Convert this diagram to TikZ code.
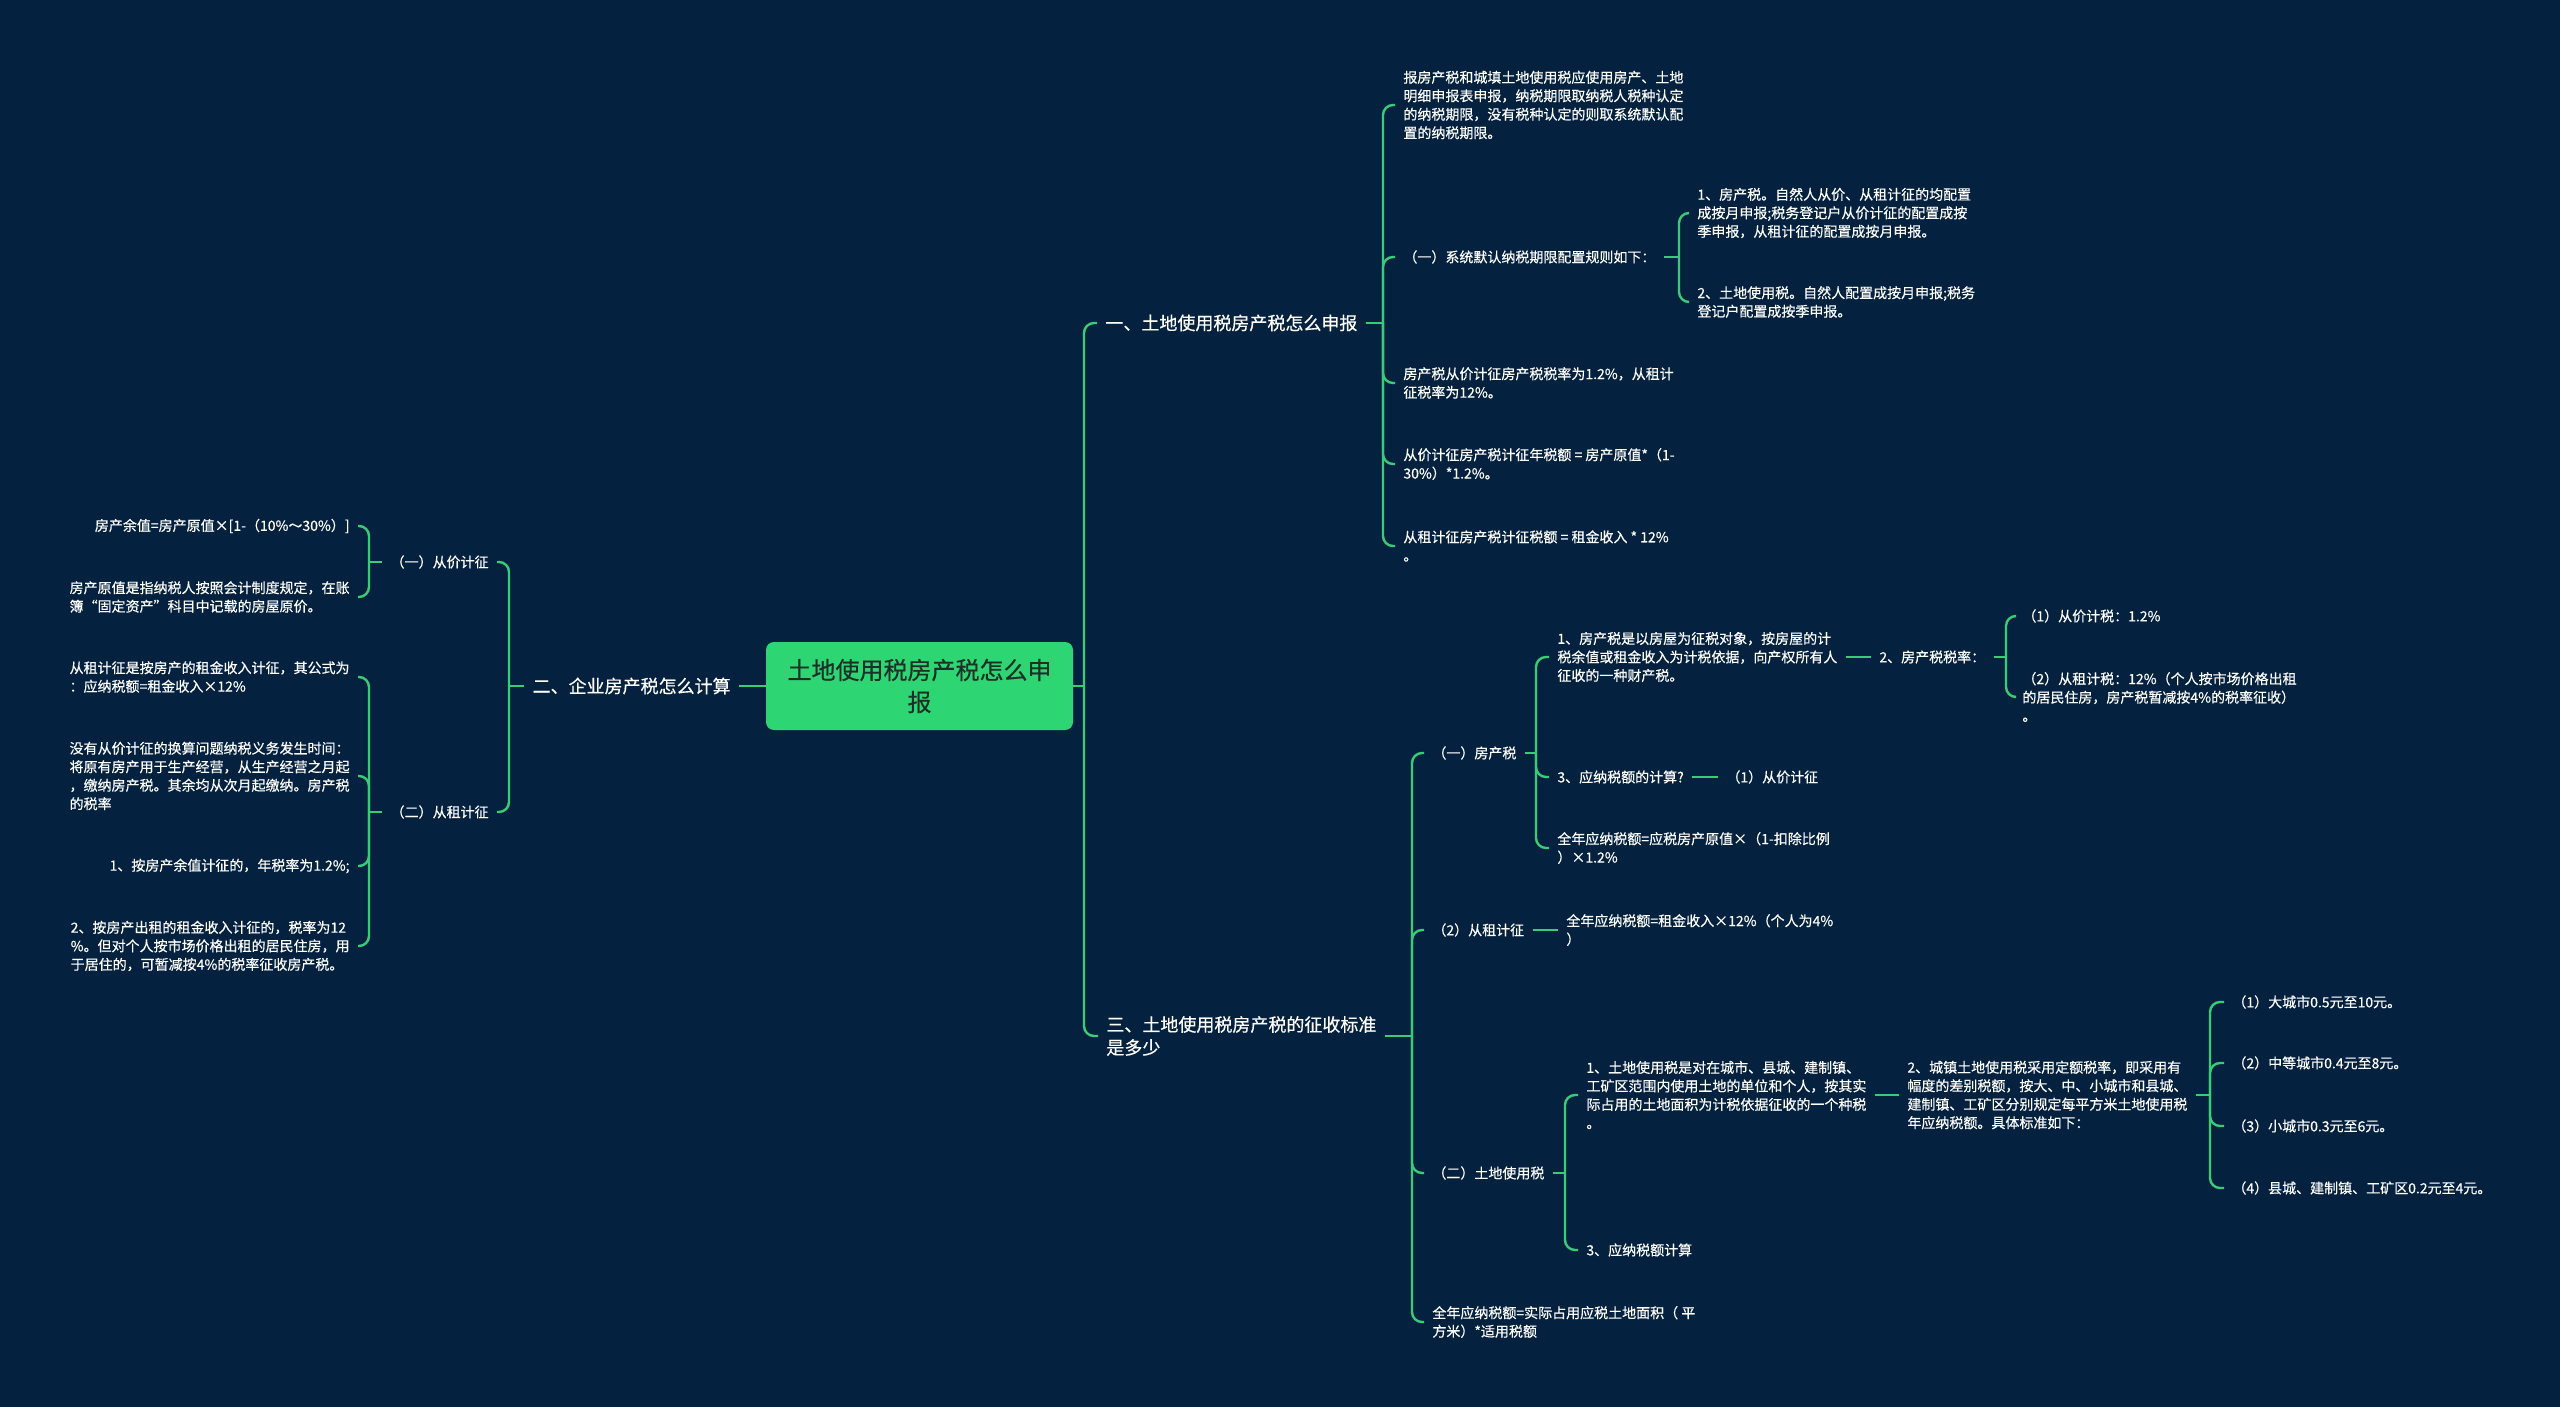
\documentclass[tikz,border=0pt]{standalone}
\usepackage{fontspec}
\setmainfont{Noto Sans CJK SC}[FakeBold=0.4]
\definecolor{bgc}{RGB}{4,34,64}
\definecolor{lineg}{RGB}{56,204,118}
\definecolor{rootg}{RGB}{46,213,115}
\definecolor{roottxt}{RGB}{28,48,40}
\tikzset{
  conn/.style={draw=lineg, line width=1.2pt, rounded corners=5pt},
  leaf/.style={text=white, font=\fontsize{7}{9.25}\selectfont, align=left, inner xsep=4pt, inner ysep=1pt},
  ttl/.style={text=white, font=\fontsize{9}{11.5}\selectfont, align=left, inner xsep=4pt, inner ysep=1pt},
  rootbox/.style={fill=rootg, rounded corners=4pt, text=roottxt, font=\fontsize{12}{16}\selectfont, align=center, minimum width=153.5pt, minimum height=44pt, inner sep=0pt},
}
\begin{document}
\begin{tikzpicture}[x=0.5pt,y=-0.5pt]
\useasboundingbox (0,0) rectangle (2560,1407);
\fill[bgc] (0,0) rectangle (2560,1407);

% bracket x positions
\coordinate (bxR) at (1084,0);
\coordinate (bx1) at (1383,0);
\coordinate (bxa2) at (1679,0);
\coordinate (bx3) at (1412,0);
\coordinate (bxb1) at (1536,0);
\coordinate (bxb111) at (2006,0);
\coordinate (bxb3) at (1565,0);
\coordinate (bxb311) at (2210,0);
\coordinate (bxL) at (509,0);
\coordinate (bxL1) at (369,0);

% root
\node[rootbox] (root) at (919.5,686) {土地使用税房产税怎么申\\报};

% right: section one
\node[ttl,anchor=west] (t1) at (1097,323) {一、土地使用税房产税怎么申报};
\node[leaf,anchor=west] (a1) at (1395,105) {报房产税和城填土地使用税应使用房产、土地\\明细申报表申报，纳税期限取纳税人税种认定\\的纳税期限，没有税种认定的则取系统默认配\\置的纳税期限。};
\node[leaf,anchor=west] (a2) at (1395,257) {（一）系统默认纳税期限配置规则如下：};
\node[leaf,anchor=west] (a21) at (1689,213) {1、房产税。自然人从价、从租计征的均配置\\成按月申报;税务登记户从价计征的配置成按\\季申报，从租计征的配置成按月申报。};
\node[leaf,anchor=west] (a22) at (1689,302) {2、土地使用税。自然人配置成按月申报;税务\\登记户配置成按季申报。};
\node[leaf,anchor=west] (a3) at (1395,383) {房产税从价计征房产税税率为1.2\%，从租计\\征税率为12\%。};
\node[leaf,anchor=west] (a4) at (1395,464) {从价计征房产税计征年税额 = 房产原值*（1-\\30\%）*1.2\%。};
\node[leaf,anchor=west] (a5) at (1395,546) {从租计征房产税计征税额 = 租金收入 * 12\%\\。};

% right: section three
\node[ttl,anchor=west] (t3) at (1098,1036) {三、土地使用税房产税的征收标准\\是多少};
\node[leaf,anchor=west] (b1) at (1424,753) {（一）房产税};
\node[leaf,anchor=west] (b11) at (1549,657) {1、房产税是以房屋为征税对象，按房屋的计\\税余值或租金收入为计税依据，向产权所有人\\征收的一种财产税。};
\node[leaf,anchor=west] (b111) at (1871,657) {2、房产税税率：};
\node[leaf,anchor=west] (b1111) at (2014,616) {（1）从价计税：1.2\%};
\node[leaf,anchor=west] (b1112) at (2014,697) {（2）从租计税：12\%（个人按市场价格出租\\的居民住房，房产税暂减按4\%的税率征收）\\。};
\node[leaf,anchor=west] (b12) at (1549,777) {3、应纳税额的计算?};
\node[leaf,anchor=west] (b121) at (1718,777) {（1）从价计征};
\node[leaf,anchor=west] (b13) at (1549,848) {全年应纳税额=应税房产原值×（1-扣除比例\\）×1.2\%};
\node[leaf,anchor=west] (b2) at (1424,930) {（2）从租计征};
\node[leaf,anchor=west] (b21) at (1558,930) {全年应纳税额=租金收入×12\%（个人为4\%\\）};
\node[leaf,anchor=west] (b3) at (1424,1173) {（二）土地使用税};
\node[leaf,anchor=west] (b31) at (1578,1095) {1、土地使用税是对在城市、县城、建制镇、\\工矿区范围内使用土地的单位和个人，按其实\\际占用的土地面积为计税依据征收的一个种税\\。};
\node[leaf,anchor=west] (b311) at (1899,1095) {2、城镇土地使用税采用定额税率，即采用有\\幅度的差别税额，按大、中、小城市和县城、\\建制镇、工矿区分别规定每平方米土地使用税\\年应纳税额。具体标准如下：};
\node[leaf,anchor=west] (c1) at (2224,1002) {（1）大城市0.5元至10元。};
\node[leaf,anchor=west] (c2) at (2224,1063) {（2）中等城市0.4元至8元。};
\node[leaf,anchor=west] (c3) at (2224,1126) {（3）小城市0.3元至6元。};
\node[leaf,anchor=west] (c4) at (2224,1188) {（4）县城、建制镇、工矿区0.2元至4元。};
\node[leaf,anchor=west] (b32) at (1578,1250) {3、应纳税额计算};
\node[leaf,anchor=west] (b4) at (1424,1322) {全年应纳税额=实际占用应税土地面积（ 平\\方米）*适用税额};

% left: section two
\node[ttl,anchor=east] (L) at (739,686) {二、企业房产税怎么计算};
\node[leaf,anchor=east] (L1) at (497,562) {（一）从价计征};
\node[leaf,anchor=east] (L11) at (358,526) {房产余值=房产原值×[1-（10\%～30\%）]};
\node[leaf,anchor=east] (L12) at (358,597) {房产原值是指纳税人按照会计制度规定，在账\\簿“固定资产”科目中记载的房屋原价。};
\node[leaf,anchor=east] (L2) at (497,812) {（二）从租计征};
\node[leaf,anchor=east] (L21) at (358,677) {从租计征是按房产的租金收入计征，其公式为\\：应纳税额=租金收入×12\%};
\node[leaf,anchor=east] (L22) at (358,776) {没有从价计征的换算问题纳税义务发生时间：\\将原有房产用于生产经营，从生产经营之月起\\，缴纳房产税。其余均从次月起缴纳。房产税\\的税率};
\node[leaf,anchor=east] (L23) at (358,866) {1、按房产余值计征的，年税率为1.2\%;};
\node[leaf,anchor=east] (L24) at (358,946) {2、按房产出租的租金收入计征的，税率为12\\\%。但对个人按市场价格出租的居民住房，用\\于居住的，可暂减按4\%的税率征收房产税。};

% connectors: right side
\draw[conn] (root.east) -- (root.east -| bxR);
\foreach \c in {t1,t3} \draw[conn] (root.east -| bxR) |- (\c.west);

\draw[conn] (t1.east) -- (t1.east -| bx1);
\foreach \c in {a1,a2,a3,a4,a5} \draw[conn] (t1.east -| bx1) |- (\c.west);

\draw[conn] (a2.east) -- (a2.east -| bxa2);
\foreach \c in {a21,a22} \draw[conn] (a2.east -| bxa2) |- (\c.west);

\draw[conn] (t3.east) -- (t3.east -| bx3);
\foreach \c in {b1,b2,b3,b4} \draw[conn] (t3.east -| bx3) |- (\c.west);

\draw[conn] (b1.east) -- (b1.east -| bxb1);
\foreach \c in {b11,b12,b13} \draw[conn] (b1.east -| bxb1) |- (\c.west);

\draw[conn] (b11.east) -- (b111.west);
\draw[conn] (b111.east) -- (b111.east -| bxb111);
\foreach \c in {b1111,b1112} \draw[conn] (b111.east -| bxb111) |- (\c.west);

\draw[conn] (b12.east) -- (b121.west);
\draw[conn] (b2.east) -- (b21.west);

\draw[conn] (b3.east) -- (b3.east -| bxb3);
\foreach \c in {b31,b32} \draw[conn] (b3.east -| bxb3) |- (\c.west);

\draw[conn] (b31.east) -- (b311.west);
\draw[conn] (b311.east) -- (b311.east -| bxb311);
\foreach \c in {c1,c2,c3,c4} \draw[conn] (b311.east -| bxb311) |- (\c.west);

% connectors: left side
\draw[conn] (root.west) -- (L.east);
\draw[conn] (L.west) -- (L.west -| bxL);
\foreach \c in {L1,L2} \draw[conn] (L.west -| bxL) |- (\c.east);

\draw[conn] (L1.west) -- (L1.west -| bxL1);
\foreach \c in {L11,L12} \draw[conn] (L1.west -| bxL1) |- (\c.east);

\draw[conn] (L2.west) -- (L2.west -| bxL1);
\foreach \c in {L21,L22,L23,L24} \draw[conn] (L2.west -| bxL1) |- (\c.east);
\end{tikzpicture}
\end{document}
